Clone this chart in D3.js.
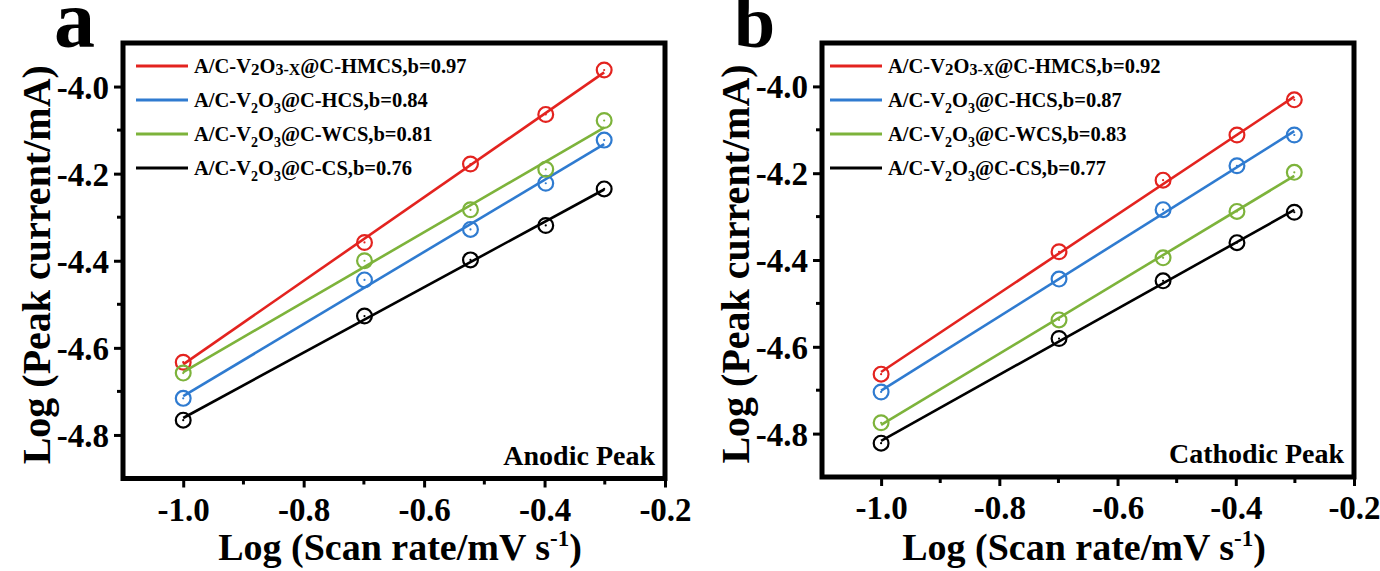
<!DOCTYPE html>
<html><head><meta charset="utf-8">
<script src="https://cdn.jsdelivr.net/npm/d3@7"></script>
<style>
html,body{margin:0;padding:0;background:#fff;}
svg text{font-family:"Liberation Serif","Times New Roman",serif;font-weight:bold;fill:#000;}
</style></head>
<body>
<svg id="chart" width="1380" height="571"></svg>
<script>
// ---- data ----
const scanRateLog = [-1.0, -0.699, -0.523, -0.398, -0.301];
const xTicks = [-1.0, -0.8, -0.6, -0.4, -0.2];
const yTicks = [-4.0, -4.2, -4.4, -4.6, -4.8];
const seriesColors = ["#e3231f", "#2f7bd0", "#7db33b", "#000000"];
const seriesMain = ["A/C-V", "A/C-V", "A/C-V", "A/C-V"];
const seriesSuffixA = ["@C-HMCS,b=0.97", "@C-HCS,b=0.84", "@C-WCS,b=0.81", "@C-CS,b=0.76"];
const seriesSuffixB = ["@C-HMCS,b=0.92", "@C-HCS,b=0.87", "@C-WCS,b=0.83", "@C-CS,b=0.77"];
const formulaKind = ["x", "n", "n", "n"];
// Anodic peak (panel a)
const anodicHMCS = [-4.633, -4.358, -4.178, -4.064, -3.962];
const anodicHCS  = [-4.716, -4.444, -4.328, -4.222, -4.123];
const anodicWCS  = [-4.658, -4.400, -4.283, -4.190, -4.078];
const anodicCS   = [-4.766, -4.527, -4.398, -4.319, -4.235];
// Cathodic peak (panel b)
const cathodicHMCS = [-4.663, -4.381, -4.216, -4.112, -4.031];
const cathodicHCS  = [-4.704, -4.444, -4.284, -4.183, -4.112];
const cathodicWCS  = [-4.775, -4.538, -4.395, -4.288, -4.198];
const cathodicCS   = [-4.822, -4.581, -4.448, -4.360, -4.290];

const svg = d3.select("#chart");

function fit(xs, ys){
  const n = xs.length, mx = d3.mean(xs), my = d3.mean(ys);
  let sxy = 0, sxx = 0;
  for (let i=0;i<n;i++){ sxy += (xs[i]-mx)*(ys[i]-my); sxx += (xs[i]-mx)**2; }
  const k = sxy/sxx; return {k, c: my - k*mx};
}

function panel(opt){
  const g = svg.append("g");
  const x = d3.scaleLinear().domain([-1.1, -0.2]).range([opt.left, opt.right]);
  const y = d3.scaleLinear().domain([-4.9, -3.9]).range([opt.bottom, opt.top]);

  // minor ticks
  const xMinor = [-0.9, -0.7, -0.5, -0.3];
  const yMinor = [-4.7, -4.5, -4.3, -4.1];
  g.selectAll(".xmin").data(xMinor).enter().append("line")
    .attr("x1", d=>x(d)).attr("x2", d=>x(d)).attr("y1", opt.bottom).attr("y2", opt.bottom+6)
    .attr("stroke","#000").attr("stroke-width",3);
  g.selectAll(".ymin").data(yMinor).enter().append("line")
    .attr("y1", d=>y(d)).attr("y2", d=>y(d)).attr("x1", opt.left).attr("x2", opt.left-6)
    .attr("stroke","#000").attr("stroke-width",3);

  // axes
  const fmt = d => d3.format(".1f")(d).replace("\u2212","-");
  const xa = g.append("g").attr("transform",`translate(0,${opt.bottom})`)
    .call(d3.axisBottom(x).tickValues(xTicks).tickFormat(fmt).tickSize(9).tickPadding(8));
  const ya = g.append("g").attr("transform",`translate(${opt.left},0)`)
    .call(d3.axisLeft(y).tickValues(yTicks).tickFormat(fmt).tickSize(9).tickPadding(5));
  [xa, ya].forEach(a => {
    a.select(".domain").remove();
    a.selectAll(".tick line").attr("stroke","#000").attr("stroke-width",3);
    a.selectAll(".tick text").style("font-size","33px");
  });
  xa.selectAll(".tick text").attr("y", 42).attr("dy", 0);
  ya.selectAll(".tick text").attr("dy", "0.35em");

  // frame
  g.append("rect").attr("x",opt.left).attr("y",opt.top)
    .attr("width",opt.right-opt.left).attr("height",opt.bottom-opt.top)
    .attr("fill","none").attr("stroke","#000").attr("stroke-width",5);

  // fit lines & markers
  opt.series.forEach((ys, i) => {
    const f = fit(scanRateLog, ys);
    const x0 = scanRateLog[0], x1 = scanRateLog[scanRateLog.length-1];
    g.append("line").attr("x1",x(x0)).attr("y1",y(f.k*x0+f.c)).attr("x2",x(x1)).attr("y2",y(f.k*x1+f.c))
      .attr("stroke",seriesColors[i]).attr("stroke-width",2.6);
    const pts = scanRateLog.map((v,j)=>[v, ys[j]]);
    g.selectAll(null).data(pts).enter().append("circle")
      .attr("cx",d=>x(d[0])).attr("cy",d=>y(d[1])).attr("r",7.4)
      .attr("fill","none").attr("stroke",seriesColors[i]).attr("stroke-width",2.2);
    g.selectAll(null).data(pts).enter().append("circle")
      .attr("cx",d=>x(d[0])).attr("cy",d=>y(d[1])).attr("r",1.1)
      .attr("fill",seriesColors[i]);
  });

  // legend
  opt.suffix.forEach((s, i) => {
    const ly = opt.legendTop + i*34;
    g.append("line").attr("x1",opt.legX).attr("x2",opt.legX+52).attr("y1",ly).attr("y2",ly)
      .attr("stroke",seriesColors[i]).attr("stroke-width",2.8);
    const t = g.append("text").attr("x",opt.legX+58).attr("y",ly+7).style("font-size","20.5px");
    t.append("tspan").text(seriesMain[i]);
    if (formulaKind[i] === "x"){
      t.append("tspan").text("2").attr("dy",2).style("font-size","17px");
      t.append("tspan").text("O").attr("dy",-2);
      t.append("tspan").text("3-X").attr("dy",2).style("font-size","16px");
      t.append("tspan").text(s).attr("dy",-2);
    } else {
      t.append("tspan").text("2").attr("dy",6).style("font-size","14px");
      t.append("tspan").text("O").attr("dy",-6);
      t.append("tspan").text("3").attr("dy",6).style("font-size","14px");
      t.append("tspan").text(s).attr("dy",-6);
    }
  });

  // corner note
  g.append("text").attr("x",opt.right-10).attr("y",opt.bottom-14).attr("text-anchor","end")
    .style("font-size","28px").text(opt.note);

  // panel letter
  g.append("text").attr("x",opt.letterX).attr("y",47).style("font-size",opt.letterSize).text(opt.letter);

  // axis titles
  g.append("text").attr("transform",`translate(${opt.left-73},${(opt.top+opt.bottom)/2+4}) rotate(-90)`)
    .attr("text-anchor","middle").style("font-size","40px").text("Log (Peak current/mA)");
  const xt = g.append("text").attr("x",opt.xTitleX).attr("y",560).attr("text-anchor","middle").style("font-size","38px");
  xt.append("tspan").text("Log (Scan rate/mV s");
  xt.append("tspan").text("-1").attr("dy",-14).style("font-size","23px");
  xt.append("tspan").text(")").attr("dy",14);
}

panel({left:123, right:665, top:43, bottom:478.5, legendTop:66, legX:136, letter:"a", letterX:54, letterSize:"82px",
  xTitleX:400, note:"Anodic Peak", suffix:seriesSuffixA, series:[anodicHMCS, anodicHCS, anodicWCS, anodicCS]});
panel({left:822, right:1354, top:43, bottom:477, legendTop:66, legX:830, letter:"b", letterX:734, letterSize:"74px",
  xTitleX:1084, note:"Cathodic Peak", suffix:seriesSuffixB, series:[cathodicHMCS, cathodicHCS, cathodicWCS, cathodicCS]});
</script>
</body></html>
